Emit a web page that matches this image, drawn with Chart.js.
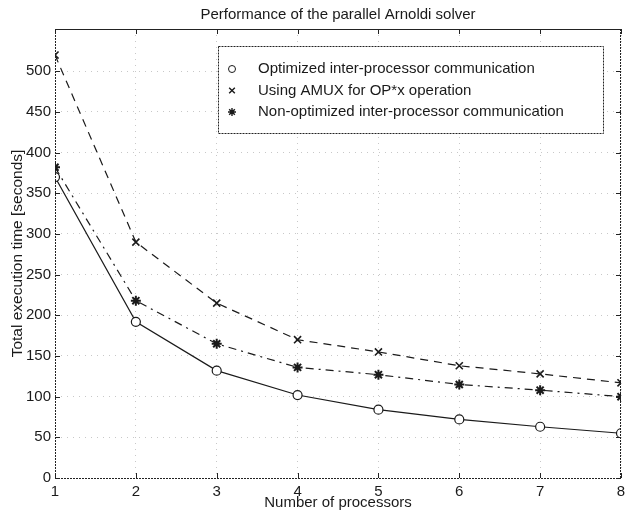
<!DOCTYPE html>
<html><head><meta charset="utf-8">
<script src="https://cdn.jsdelivr.net/npm/chart.js@4/dist/chart.umd.min.js"></script>
<style>html,body{margin:0;padding:0;background:#fff}#wrap{position:relative;width:628px;height:520px}</style>
</head><body><div id="wrap"><canvas id="c" width="628" height="520"></canvas></div>
<script>
const processors = [1, 2, 3, 4, 5, 6, 7, 8];
const optimized = [370, 192, 132, 102, 84, 72, 63, 55];
const amux = [520, 290, 215, 170, 155, 138, 128, 117];
const nonOptimized = [382, 218, 165, 136, 127, 115, 108, 100];
const seriesLabels = ['Optimized inter-processor communication', 'Using AMUX for OP*x operation', 'Non-optimized inter-processor communication'];
const yTickValues = [0, 50, 100, 150, 200, 250, 300, 350, 400, 450, 500];
const xTickValues = [1, 2, 3, 4, 5, 6, 7, 8];
const chartTitle = 'Performance of the parallel Arnoldi solver';
const xTitle = 'Number of processors';
const yTitle = 'Total execution time [seconds]';

const FONT = 'Liberation Sans, Arial, Helvetica, sans-serif';
const INK = '#1a1a1a';

function pts(vals) { return processors.map((p, i) => ({x: p, y: vals[i]})); }

const styles = [
  {pointStyle: 'circle', radius: 4.5, borderDash: [], bw: 1.2, pbw: 1.2, bg: '#fff'},
  {pointStyle: 'crossRot', radius: 5, borderDash: [8, 6], bw: 1.2, pbw: 1.6, bg: INK},
  {pointStyle: 'star', radius: 5, borderDash: [8, 5, 2, 5], bw: 1.2, pbw: 2, bg: INK}
];
const seriesData = [optimized, amux, nonOptimized];

const datasets = seriesData.map((vals, i) => ({
  label: seriesLabels[i],
  data: pts(vals),
  borderColor: INK,
  borderWidth: styles[i].bw,
  borderDash: styles[i].borderDash,
  pointStyle: styles[i].pointStyle,
  pointRadius: styles[i].radius,
  pointBorderWidth: styles[i].pbw,
  pointBackgroundColor: styles[i].bg,
  pointBorderColor: INK,
  tension: 0,
  fill: false
}));

const frame = {
  id: 'frame',
  afterDraw(chart) {
    const {ctx, chartArea: a, scales: {x, y}} = chart;
    ctx.save();
    ctx.strokeStyle = '#222';
    ctx.lineWidth = 1;
    ctx.setLineDash([]);
    ctx.beginPath(); ctx.moveTo(a.left, a.top + 0.5); ctx.lineTo(a.right, a.top + 0.5); ctx.stroke();
    ctx.setLineDash([2, 1]);
    ctx.beginPath();
    ctx.moveTo(a.left + 0.5, a.top); ctx.lineTo(a.left + 0.5, a.bottom);
    ctx.moveTo(a.left, a.bottom + 0.5); ctx.lineTo(a.right, a.bottom + 0.5);
    ctx.moveTo(a.right - 0.5, a.top); ctx.lineTo(a.right - 0.5, a.bottom);
    ctx.stroke();
    ctx.setLineDash([]);
    ctx.beginPath();
    xTickValues.forEach(v => {
      const px = Math.round(x.getPixelForValue(v)) + 0.5;
      ctx.moveTo(px, a.bottom); ctx.lineTo(px, a.bottom - 5);
      ctx.moveTo(px, a.top); ctx.lineTo(px, a.top + 5);
    });
    yTickValues.forEach(v => {
      const py = Math.round(y.getPixelForValue(v)) + 0.5;
      ctx.moveTo(a.left, py); ctx.lineTo(a.left + 5, py);
      ctx.moveTo(a.right, py); ctx.lineTo(a.right - 5, py);
    });
    ctx.stroke();

    // legend box
    const lx0 = a.left + 163, ly0 = a.top + 17, lx1 = a.right - 18, ly1 = a.top + 104;
    ctx.fillStyle = '#fff';
    ctx.fillRect(lx0, ly0, lx1 - lx0, ly1 - ly0);
    ctx.setLineDash([2, 1]);
    ctx.strokeStyle = '#222';
    ctx.strokeRect(lx0 + 0.5, ly0 + 0.5, lx1 - lx0, ly1 - ly0);
    ctx.setLineDash([]);
    ctx.font = '15px ' + FONT;
    ctx.textBaseline = 'middle';
    ctx.textAlign = 'left';
    seriesLabels.forEach((lab, i) => {
      const cy = ly0 + 23 + i * 21.5;
      const mx = lx0 + 14;
      const s = styles[i];
      ctx.fillStyle = s.bg; ctx.strokeStyle = INK; ctx.lineWidth = i === 0 ? 1 : 1.4;
      Chart.helpers.drawPoint(ctx, {pointStyle: s.pointStyle, radius: i === 0 ? 3.5 : 4, borderWidth: ctx.lineWidth}, mx, cy);
      ctx.fillStyle = INK;
      ctx.fillText(lab, lx0 + 40, cy);
    });
    ctx.restore();
  }
};

new Chart(document.getElementById('c'), {
  type: 'line',
  data: {datasets},
  plugins: [frame],
  options: {
    responsive: false,
    animation: false,
    devicePixelRatio: 1,
    layout: {padding: {left: 0, right: 3, top: 0, bottom: 0}},
    plugins: {
      legend: {display: false},
      tooltip: {enabled: false},
      title: {
        display: true, text: chartTitle, fullSize: false, color: INK,
        font: {family: FONT, size: 15, weight: 'normal', lineHeight: 1.2},
        padding: {top: 6, bottom: 5}
      }
    },
    scales: {
      x: {
        type: 'linear', min: 1, max: 8,
        afterBuildTicks(s) { s.ticks = xTickValues.map(v => ({value: v})); },
        afterFit(s) { s.height = 42; s.paddingLeft = 0; s.paddingRight = 0; },
        border: {display: false, dash: [1, 5]},
        grid: {color: '#c8c8c8', drawTicks: false, lineWidth: 1},
        ticks: {color: INK, padding: 6, maxRotation: 0, autoSkip: false,
          font: {family: FONT, size: 15, lineHeight: 1}},
        title: {display: true, text: xTitle, color: INK,
          font: {family: FONT, size: 15, lineHeight: 1.2}, padding: {top: 0, bottom: 8}}
      },
      y: {
        type: 'linear', min: 0, max: 552,
        afterBuildTicks(s) { s.ticks = yTickValues.map(v => ({value: v})); },
        afterFit(s) { s.width = 55; s.paddingTop = 0; s.paddingBottom = 0; },
        border: {display: false, dash: [1, 5]},
        grid: {color: '#c8c8c8', drawTicks: false, lineWidth: 1},
        ticks: {color: INK, padding: 4, autoSkip: false,
          font: {family: FONT, size: 15, lineHeight: 1}},
        title: {display: true, text: yTitle, color: INK,
          font: {family: FONT, size: 15.5, lineHeight: 1.2}, padding: {top: 8, bottom: 0}}
      }
    }
  }
});
</script></body></html>
